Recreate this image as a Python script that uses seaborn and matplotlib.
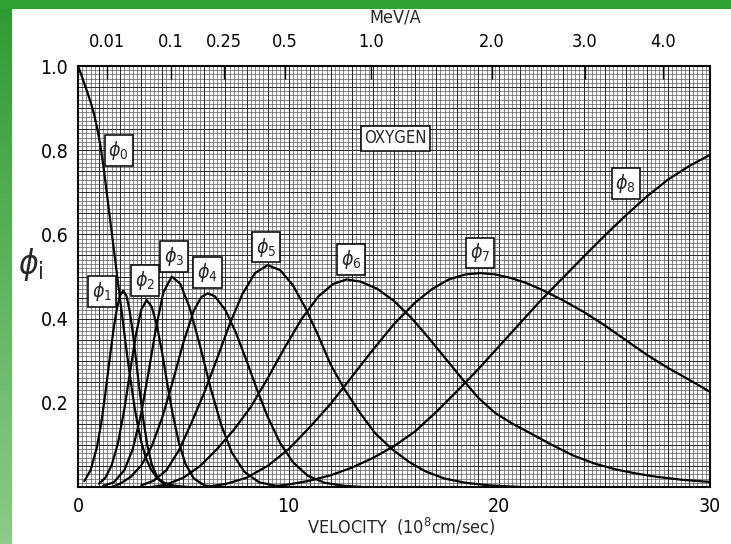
import numpy as np
import pandas as pd
import matplotlib
matplotlib.use("Agg")
import matplotlib.pyplot as plt
import seaborn as sns
from matplotlib.colors import LinearSegmentedColormap

# ---------------- data ----------------
v0 = [0, 0.15, 0.3, 0.45, 0.6, 0.75, 0.9, 1.05, 1.2, 1.35, 1.5, 1.65, 1.8, 1.95, 2.1, 2.25, 2.4, 2.55, 2.7,
      2.85, 3.0, 3.2, 3.45, 3.75, 4.1, 4.6, 5.2]
p0 = [1.0, 0.98, 0.958, 0.937, 0.914, 0.888, 0.855, 0.815, 0.765, 0.705, 0.645, 0.585, 0.525, 0.465, 0.405,
      0.345, 0.288, 0.235, 0.185, 0.143, 0.108, 0.072, 0.043, 0.022, 0.01, 0.003, 0.0]

v1 = [0.3, 0.6, 0.9, 1.1, 1.3, 1.5, 1.7, 1.85, 2.0, 2.15, 2.3, 2.45, 2.6, 2.75, 2.9, 3.1, 3.3, 3.5, 3.8, 4.2, 4.6]
p1 = [0.014, 0.04, 0.095, 0.151, 0.223, 0.303, 0.379, 0.425, 0.455, 0.466, 0.454, 0.419, 0.367, 0.304, 0.239,
      0.16, 0.097, 0.054, 0.019, 0.003, 0.0]

v2 = [1.0, 1.3, 1.6, 1.9, 2.2, 2.5, 2.75, 3.0, 3.26, 3.5, 3.75, 4.0, 4.25, 4.5, 4.8, 5.1, 5.5, 6.0, 6.5]
p2 = [0.008, 0.022, 0.052, 0.105, 0.185, 0.283, 0.362, 0.421, 0.444, 0.428, 0.383, 0.317, 0.242, 0.172, 0.103,
      0.055, 0.02, 0.004, 0.0]

v3 = [1.2, 1.7, 2.2, 2.6, 3.0, 3.35, 3.7, 4.05, 4.45, 4.85, 5.3, 5.8, 6.3, 6.8, 7.3, 7.9, 8.6, 9.5]
p3 = [0.003, 0.011, 0.04, 0.09, 0.175, 0.273, 0.377, 0.462, 0.50, 0.483, 0.426, 0.334, 0.234, 0.147, 0.082,
      0.036, 0.011, 0.002]

v4 = [1.6, 2.0, 2.5, 3.0, 3.5, 4.0, 4.5, 5.0, 5.5, 5.85, 6.15, 6.5, 7.0, 7.5, 8.0, 8.5, 9.0, 9.6, 10.2, 10.9,
      11.7, 12.6, 13.5]
p4 = [0.0, 0.008, 0.024, 0.051, 0.097, 0.165, 0.251, 0.343, 0.419, 0.451, 0.46, 0.453, 0.42, 0.366, 0.30, 0.231,
      0.167, 0.104, 0.059, 0.027, 0.01, 0.003, 0.0]

v5 = [3.0, 3.6, 4.2, 4.8, 5.4, 6.0, 6.6, 7.2, 7.8, 8.4, 9.0, 9.6, 10.2, 10.8, 11.4, 12.0, 12.7, 13.4, 14.1,
      14.9, 15.7, 16.5, 17.4, 18.4, 19.5, 21.0]
p5 = [0.004, 0.015, 0.04, 0.088, 0.154, 0.225, 0.305, 0.387, 0.458, 0.508, 0.527, 0.515, 0.479, 0.425, 0.36,
      0.29, 0.228, 0.175, 0.128, 0.09, 0.06, 0.037, 0.02, 0.01, 0.004, 0.0]

v6 = [3.5, 4.2, 5.0, 5.8, 6.6, 7.4, 8.2, 9.0, 9.8, 10.6, 11.4, 12.1, 12.75, 13.4, 14.2, 15.0, 15.8, 16.6, 17.4,
      18.2, 19.0, 19.8, 20.6, 21.5, 22.5, 23.5, 24.5, 25.5, 26.5, 27.5, 28.7, 30.0]
p6 = [0.0, 0.006, 0.022, 0.05, 0.09, 0.136, 0.19, 0.258, 0.33, 0.398, 0.452, 0.482, 0.493, 0.488, 0.471, 0.442,
      0.403, 0.357, 0.308, 0.259, 0.212, 0.176, 0.151, 0.127, 0.10, 0.075, 0.056, 0.042, 0.032, 0.024, 0.017, 0.012]

v7 = [6.0, 7.0, 8.0, 9.0, 10.0, 11.0, 12.0, 13.0, 14.0, 15.0, 16.0, 16.8, 17.6, 18.4, 19.1, 19.8, 20.5, 21.2,
      22.0, 23.0, 24.0, 25.0, 26.0, 27.0, 28.0, 29.0, 30.0]
p7 = [0.0, 0.007, 0.022, 0.05, 0.09, 0.142, 0.198, 0.262, 0.326, 0.387, 0.438, 0.47, 0.493, 0.505, 0.508, 0.505,
      0.497, 0.486, 0.469, 0.444, 0.416, 0.384, 0.349, 0.314, 0.283, 0.255, 0.226]

v8 = [9, 10, 11, 12, 13, 14, 15, 16, 17, 18, 19, 20, 21, 22, 23, 24, 25, 26, 27, 28, 29, 30]
p8 = [0.0, 0.006, 0.015, 0.028, 0.046, 0.069, 0.097, 0.132, 0.178, 0.228, 0.28, 0.335, 0.39, 0.445, 0.496,
      0.547, 0.597, 0.645, 0.69, 0.73, 0.762, 0.789]

curve_names = ["φ0", "φ1", "φ2", "φ3", "φ4", "φ5", "φ6", "φ7", "φ8"]
curve_v = [v0, v1, v2, v3, v4, v5, v6, v7, v8]
curve_p = [p0, p1, p2, p3, p4, p5, p6, p7, p8]
curve_labels = [r"$\phi_{0}$", r"$\phi_{1}$", r"$\phi_{2}$", r"$\phi_{3}$", r"$\phi_{4}$",
                r"$\phi_{5}$", r"$\phi_{6}$", r"$\phi_{7}$", r"$\phi_{8}$"]

x_ticks = [0, 10, 20, 30]
x_tick_labels = ["0", "10", "20", "30"]
y_ticks = [0.2, 0.4, 0.6, 0.8, 1.0]
y_tick_labels = ["0.2", "0.4", "0.6", "0.8", "1.0"]
mev_ticks = [0.01, 0.1, 0.25, 0.5, 1.0, 2.0, 3.0, 4.0]
mev_tick_labels = ["0.01", "0.1", "0.25", "0.5", "1.0", "2.0", "3.0", "4.0"]
MEV_PER_V2 = 0.00518  # MeV/A per (1e8 cm/s)^2

# label box positions (layout)
label_pos = [(1.93, 0.80), (1.14, 0.465), (3.2, 0.49), (4.55, 0.548), (6.15, 0.51),
             (8.93, 0.57), (12.95, 0.54), (19.1, 0.556), (26.0, 0.72)]

# ---------------- build table ----------------
frames = []
for name, vv, pp in zip(curve_names, curve_v, curve_p):
    frames.append(pd.DataFrame({"v": vv, "phi": pp, "state": name}))
df = pd.concat(frames, ignore_index=True)

# ---------------- figure ----------------
sns.set_theme(style="white")
plt.rcParams["font.family"] = ["DejaVu Sans"]
plt.rcParams["font.stretch"] = "condensed"
plt.rcParams["mathtext.fontset"] = "dejavusans"

W, H = 731, 544
fig = plt.figure(figsize=(W / 100, H / 100), dpi=100)
fig.patch.set_facecolor("white")

# green frame decoration
gax = fig.add_axes([0, 0, 12 / W, 1])
grad = np.linspace(0, 1, 256).reshape(-1, 1)
gcm = LinearSegmentedColormap.from_list("g", ["#2f9b33", "#8ccb88"])
gax.imshow(grad, aspect="auto", cmap=gcm, extent=[0, 1, 0, 1], origin="upper")
gax.set_axis_off()
tax = fig.add_axes([0, 1 - 9 / H, 1, 9 / H])
tax.set_facecolor("#31a035")
tax.set_xticks([]); tax.set_yticks([])
for s in tax.spines.values():
    s.set_visible(False)

ax = fig.add_axes([78 / W, 57 / H, 632 / W, 421 / H])
ax.set_xlim(0, 30)
ax.set_ylim(0, 1.0)

# graph-paper grid
ax.vlines(np.arange(0, 30.001, 0.2), 0, 1, colors="#5a5a5a", lw=0.5, zorder=0)
ax.hlines(np.arange(0, 1.0001, 0.01), 0, 30, colors="#5a5a5a", lw=0.5, zorder=0)
ax.vlines(np.arange(0, 30.001, 1.0), 0, 1, colors="#2a2a2a", lw=0.7, zorder=0)
ax.hlines(np.arange(0, 1.0001, 0.05), 0, 30, colors="#2a2a2a", lw=0.7, zorder=0)

sns.lineplot(data=df, x="v", y="phi", units="state", estimator=None, sort=False,
             color="black", lw=1.6, ax=ax, zorder=3, legend=False)

for lab, (lx, ly) in zip(curve_labels, label_pos):
    ax.text(lx, ly, lab, ha="center", va="center", fontsize=14, zorder=5,
            bbox=dict(boxstyle="square,pad=0.2", fc="white", ec="black", lw=1.1))
ax.text(15.07, 0.828, "OXYGEN", ha="center", va="center", fontsize=12, zorder=5,
        bbox=dict(boxstyle="square,pad=0.2", fc="white", ec="black", lw=1.1))

for s in ax.spines.values():
    s.set_color("black"); s.set_linewidth(1.5)

ax.set_xticks(x_ticks)
ax.set_xticklabels(x_tick_labels)
ax.set_yticks(y_ticks)
ax.set_yticklabels(y_tick_labels)
ax.tick_params(axis="x", direction="in", length=6, width=1, pad=7, labelsize=14, colors="black", top=False)
ax.tick_params(axis="y", direction="out", length=4, width=1, pad=3, labelsize=14, colors="black")
ax.set_xlabel(""); ax.set_ylabel("")

sec = ax.secondary_xaxis("top", functions=(lambda v: MEV_PER_V2 * np.asarray(v) ** 2,
                                           lambda e: np.sqrt(np.maximum(np.asarray(e, float), 0) / MEV_PER_V2)))
sec.set_xticks(mev_ticks)
sec.set_xticklabels(mev_tick_labels)
sec.tick_params(axis="x", direction="in", length=9, width=1, pad=11, labelsize=13, colors="black")
sec.spines["top"].set_visible(False)

fig.text(395 / W, 1 - 18 / H, "MeV/A", ha="center", va="center", fontsize=13)
fig.text(401 / W, 1 - 527 / H, r"VELOCITY  (10$^{8}$cm/sec)", ha="center", va="center", fontsize=13)
fig.text(31 / W, 1 - 265 / H, r"$\phi_{\rm i}$", ha="center", va="center", fontsize=24)

fig.savefig("out.png", dpi=100)
